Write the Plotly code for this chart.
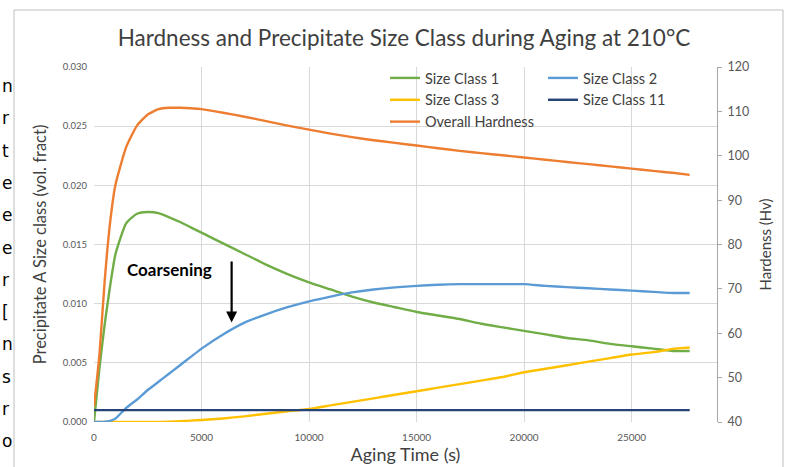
import plotly.graph_objects as go

# ---------------- data ----------------
time_s = [0, 250, 500, 750, 1000, 1500, 2000, 2500, 3000, 3500, 4000, 4500, 5000,
          6000, 7000, 8000, 9000, 10000, 11000, 12000, 13000, 14000, 15000, 16000,
          17000, 18000, 19000, 20000, 21000, 22000, 23000, 24000, 25000, 26000,
          27000, 27700]

size_class_1 = [0.0, 0.0045, 0.0083, 0.0115, 0.0142, 0.0168, 0.0176, 0.01775, 0.01765,
                0.0173, 0.0169, 0.01645, 0.0160, 0.0151, 0.0142, 0.0133, 0.0125, 0.0118,
                0.0112, 0.0106, 0.0101, 0.0097, 0.0093, 0.0090, 0.0087, 0.0083, 0.0080,
                0.0077, 0.0074, 0.0071, 0.0069, 0.0066, 0.0064, 0.0062, 0.0060, 0.0060]

size_class_2 = [0.0, 0.0, 0.00002, 0.0001, 0.0003, 0.0012, 0.0019, 0.0027, 0.0034,
                0.0041, 0.0048, 0.0055, 0.0062, 0.0074, 0.0084, 0.0091, 0.0097, 0.0102,
                0.0106, 0.01095, 0.0112, 0.01138, 0.0115, 0.0116, 0.01165, 0.01165,
                0.01165, 0.01165, 0.0115, 0.0114, 0.0113, 0.0112, 0.0111, 0.0110,
                0.0109, 0.0109]

size_class_3 = [0.0, 0.0, 0.0, 0.0, 0.0, 0.0, 0.0, 0.0, 0.0, 0.00003, 0.00007, 0.00012,
                0.00017, 0.0003, 0.00048, 0.0007, 0.0009, 0.0011, 0.0014, 0.0017,
                0.0020, 0.0023, 0.0026, 0.0029, 0.0032, 0.0035, 0.0038, 0.0042, 0.0045,
                0.0048, 0.0051, 0.0054, 0.0057, 0.0059, 0.0062, 0.0063]

size_class_11 = [0.001] * len(time_s)

overall_hardness = [43.5, 55, 72, 85, 93.5, 102, 106.8, 109.3, 110.5, 110.8, 110.8,
                    110.7, 110.5, 109.7, 108.8, 107.8, 106.8, 105.9, 105.0, 104.2,
                    103.5, 102.9, 102.3, 101.7, 101.1, 100.6, 100.1, 99.6, 99.1, 98.6,
                    98.1, 97.6, 97.1, 96.6, 96.1, 95.7]

x_tick_vals = [0, 5000, 10000, 15000, 20000, 25000]
x_tick_text = ["0", "5000", "10000", "15000", "20000", "25000"]
left_ticks = [0.000, 0.005, 0.010, 0.015, 0.020, 0.025, 0.030]
right_ticks = [40, 50, 60, 70, 80, 90, 100, 110, 120]

side_fragments = ["n", "r", "t", "e", "e", "e", "r", "[", "n", "s", "r", "o"]

# ---------------- styling ----------------
FONT = "Lato"
GREEN = "#70AD47"
BLUE = "#5B9BD5"
YELLOW = "#FFC000"
DARK = "#264478"
ORANGE = "#ED7D31"
TXT = "#595959"
GRID = "#D9D9D9"
LW = 2.4

# plot area in pixels: left 94, right 717, top 67, bottom 422
L, R, T, B = 94, 717, 67, 422
def px_x(p):
    return (p - L) / (R - L)
def px_y(p):
    return (B - p) / (B - T)

fig = go.Figure()

def line(x, y, name, color, legend, yaxis="y"):
    return go.Scatter(x=x, y=y, name=name, mode="lines", yaxis=yaxis, legend=legend,
                      line=dict(color=color, width=LW, shape="spline", smoothing=0.5),
                      hoverinfo="skip")

fig.add_trace(line(time_s, size_class_1, "Size Class 1", GREEN, "legend"))
fig.add_trace(line(time_s, size_class_3, "Size Class 3", YELLOW, "legend"))
fig.add_trace(line(time_s, overall_hardness, "Overall Hardness", ORANGE, "legend", "y2"))
fig.add_trace(line(time_s, size_class_2, "Size Class 2", BLUE, "legend2"))
fig.add_trace(line(time_s, size_class_11, "Size Class 11", DARK, "legend2"))

legend_common = dict(font=dict(family=FONT, size=14.5, color="#404040"),
                     bgcolor="rgba(0,0,0,0)", borderwidth=0,
                     xanchor="left", yanchor="top", orientation="v",
                     itemwidth=30, tracegroupgap=0)

fig.update_layout(
    width=788, height=467,
    margin=dict(l=L, r=788 - R, t=T, b=467 - B, autoexpand=False),
    paper_bgcolor="white", plot_bgcolor="white",
    font=dict(family=FONT, color=TXT),
    title=dict(text="Hardness and Precipitate Size Class during Aging at 210°C",
               font=dict(family=FONT, size=22.5, color="#404040"),
               x=px_x(404), xanchor="center", xref="paper", y=1 - 38 / 467, yanchor="middle"),
    showlegend=True,
    legend=dict(x=px_x(385), y=px_y(62), **legend_common),
    legend2=dict(x=px_x(543), y=px_y(62), **legend_common),
    xaxis=dict(range=[0, 28970], tickvals=x_tick_vals, ticktext=x_tick_text,
               showgrid=True, gridcolor=GRID, gridwidth=1, zeroline=False,
               showline=False, ticks="", ticklabelstandoff=8, automargin=False,
               tickfont=dict(family=FONT, size=10, color=TXT),
               title=dict(text="Aging Time (s)", font=dict(family=FONT, size=18, color="#404040"),
                          standoff=4)),
    yaxis=dict(range=[0, 0.03], tickvals=left_ticks, tickformat=".3f",
               showgrid=True, gridcolor=GRID, gridwidth=1, zeroline=False,
               showline=False, ticks="", ticklabelstandoff=6, automargin=False,
               tickfont=dict(family=FONT, size=9.5, color=TXT),
               title=dict(text="Precipitate A Size class (vol. fract)",
                          font=dict(family=FONT, size=16.5, color="#404040"), standoff=11)),
    yaxis2=dict(range=[40, 120], tickvals=right_ticks, overlaying="y", side="right",
                showgrid=False, zeroline=False, showline=True, linecolor="#A6A6A6",
                linewidth=1, ticks="outside", ticklen=4, tickcolor="#A6A6A6",
                automargin=False, ticklabelstandoff=3,
                tickfont=dict(family=FONT, size=12.5, color=TXT),
                title=dict(text="Hardenss (Hv)", font=dict(family=FONT, size=15, color="#404040"),
                           standoff=12)),
)

# Coarsening annotation with arrow
fig.add_annotation(x=3530, y=0.01285, xref="x", yref="y", text="<b>Coarsening</b>",
                   showarrow=False, font=dict(family=FONT, size=17, color="black"))
fig.add_annotation(x=6400, y=0.0084, xref="x", yref="y", ax=6400, ay=0.0137,
                   axref="x", ayref="y", text="", showarrow=True, arrowhead=2,
                   arrowsize=1, arrowwidth=2.2, arrowcolor="black")

# chart frame
fig.add_shape(type="rect", xref="paper", yref="paper",
              x0=px_x(14), x1=px_x(783), y0=px_y(475), y1=px_y(10),
              line=dict(color="#BFBFBF", width=1), fillcolor="rgba(0,0,0,0)", layer="below")

# cut-off page text on the left edge
for i, ch in enumerate(side_fragments):
    fig.add_annotation(x=px_x(0), y=px_y(86 + i * 32.3), xref="paper", yref="paper",
                       text=ch, showarrow=False, xanchor="left", yanchor="middle",
                       font=dict(family="DejaVu Sans", size=17, color="black"))

fig.write_html("out.html",
               config={"displayModeBar": False, "staticPlot": True},
               post_script="document.body.style.margin='0';document.body.style.overflow='hidden';")
